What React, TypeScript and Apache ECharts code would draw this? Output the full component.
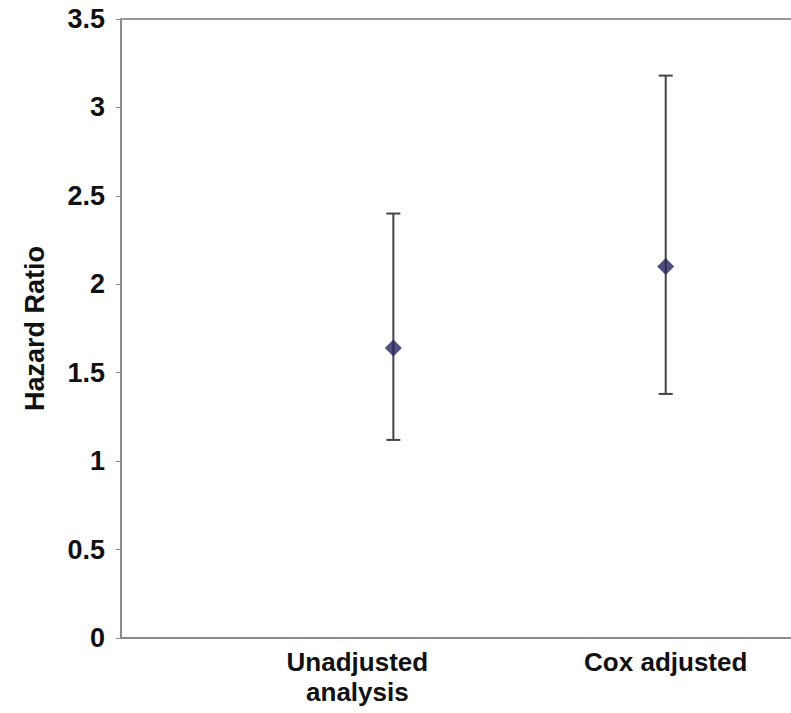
import React, { useEffect, useRef } from "react";
import * as echarts from "echarts";

const categories = ["Unadjusted\nanalysis", "Cox adjusted"];
const hazardRatio = [1.64, 2.1];
const lowerCI = [1.12, 1.38];
const upperCI = [2.4, 3.18];

export default function App() {
  const ref = useRef<HTMLDivElement>(null);
  useEffect(() => {
    document.body.style.margin = "0";
    const chart = echarts.init(ref.current!, null, { renderer: "svg" });
    const font = "Liberation Sans, Arial, sans-serif";
    const labelFor = (v: number) => {
      const i = Math.round(v) - 1;
      if (Math.abs(v - Math.round(v)) > 1e-6 || i < 0 || i >= categories.length) return "";
      if (i === 0) return categories[i].split("\n").map((s) => `{u|${s}}`).join("\n");
      return categories[i];
    };
    const labelText = {
      color: "#111",
      fontFamily: font,
      fontWeight: "bold",
      fontSize: 26,
      lineHeight: 30,
    };
    chart.setOption({
      animation: false,
      backgroundColor: "#ffffff",
      grid: { left: 121, right: 0, top: 19, bottom: 75, containLabel: false },
      xAxis: [
        {
          type: "value",
          min: 0,
          max: 2.46,
          interval: 1,
          position: "bottom",
          axisLine: { show: true, onZero: false, lineStyle: { color: "#8a8a8a", width: 2 } },
          axisTick: { show: false },
          splitLine: { show: false },
          axisLabel: {
            formatter: (v: number) => labelFor(v),
            ...labelText,
            margin: 9,
            showMaxLabel: false,
            rich: { u: { ...labelText, padding: [0, 72, 0, 0] } },
          },
        },
        {
          type: "value",
          min: 0,
          max: 2.46,
          interval: 1,
          position: "top",
          axisLine: { show: true, onZero: false, lineStyle: { color: "#9a9a9a", width: 2 } },
          axisTick: { show: false },
          axisLabel: { show: false },
          splitLine: { show: false },
        },
      ],
      yAxis: {
        type: "value",
        min: 0,
        max: 3.5,
        interval: 0.5,
        name: "Hazard Ratio",
        nameLocation: "middle",
        nameGap: 73,
        nameTextStyle: { color: "#111", fontFamily: font, fontWeight: "bold", fontSize: 27 },
        axisLine: { show: true, lineStyle: { color: "#8a8a8a", width: 2 } },
        axisTick: { show: true, inside: false, length: 5, lineStyle: { color: "#8a8a8a", width: 1 } },
        splitLine: { show: false },
        axisLabel: {
          color: "#111",
          fontFamily: font,
          fontWeight: "bold",
          fontSize: 27,
          margin: 16,
        },
      },
      series: [
        {
          type: "custom",
          xAxisIndex: 1,
          data: categories.map((_, i) => [i + 1, lowerCI[i], upperCI[i]]),
          encode: { x: 0, y: [1, 2] },
          renderItem: (params: any, api: any) => {
            const x = api.value(0);
            const lo = api.coord([x, api.value(1)]);
            const hi = api.coord([x, api.value(2)]);
            const cap = 7;
            const style = { stroke: "#444444", lineWidth: 2 };
            return {
              type: "group",
              children: [
                { type: "line", shape: { x1: lo[0], y1: lo[1], x2: hi[0], y2: hi[1] }, style },
                { type: "line", shape: { x1: lo[0] - cap, y1: lo[1], x2: lo[0] + cap, y2: lo[1] }, style },
                { type: "line", shape: { x1: hi[0] - cap, y1: hi[1], x2: hi[0] + cap, y2: hi[1] }, style },
              ],
            };
          },
          z: 2,
        },
        {
          type: "scatter",
          xAxisIndex: 0,
          data: categories.map((_, i) => [i + 1, hazardRatio[i]]),
          symbol: "diamond",
          symbolSize: 17,
          itemStyle: { color: "#23235c" },
          z: 3,
        },
      ],
    });
    return () => chart.dispose();
  }, []);
  return <div ref={ref} style={{ width: 791, height: 713 }} />;
}
